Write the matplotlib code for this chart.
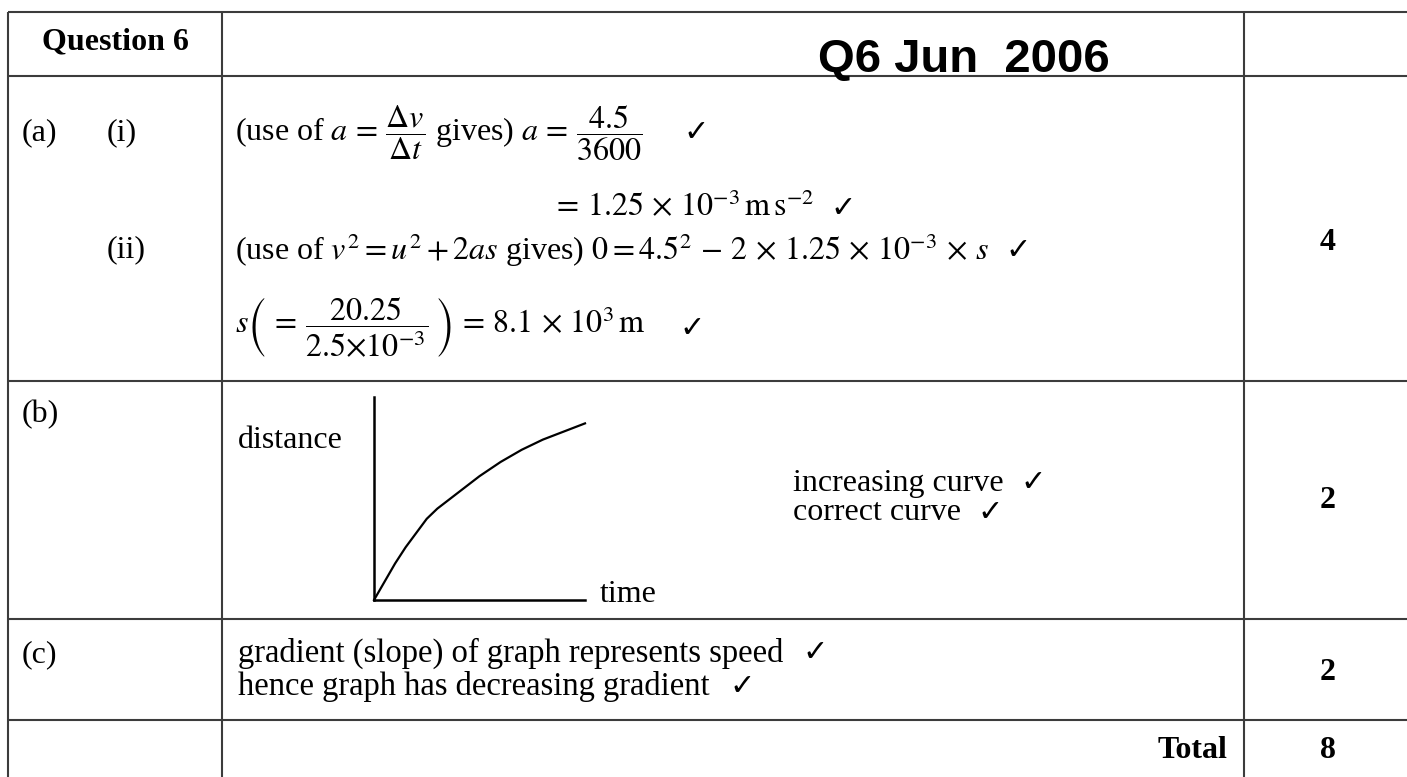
import matplotlib
matplotlib.use("Agg")
import matplotlib.pyplot as plt

plt.rcParams['mathtext.fontset'] = 'stix'
plt.rcParams['font.family'] = ['Liberation Serif', 'DejaVu Sans']

# ---- data ----
sketch_time = [0.0, 0.05, 0.10, 0.15, 0.20, 0.25, 0.30, 0.40, 0.50, 0.60, 0.70, 0.80, 0.90, 1.0]
sketch_distance = [0.0, 0.09, 0.18, 0.26, 0.33, 0.40, 0.45, 0.53, 0.61, 0.68, 0.74, 0.79, 0.83, 0.87]
marks = ["4", "2", "2"]
total_mark = "8"

W, H = 1407, 777
fig = plt.figure(figsize=(W / 100, H / 100), dpi=100)
ax = fig.add_axes([0, 0, 1, 1])
ax.set_xlim(0, W)
ax.set_ylim(H, 0)
ax.axis('off')

LC = '#3c3c3c'
LW = 1.5
# table grid
for y in [12, 76, 381, 619, 720]:
    ax.plot([8, W], [y, y], color=LC, lw=LW, solid_capstyle='butt')
for x in [8, 222, 1244]:
    ax.plot([x, x], [12, H], color=LC, lw=LW, solid_capstyle='butt')

FS = 23
SERIF = ['Liberation Serif', 'DejaVu Sans']


def txt(x, y, s, check=False, ha='left', va='center', bold=False, size=FS, gap=14):
    t = ax.text(x, y, s, ha=ha, va=va, fontsize=size, family=SERIF,
                fontweight='bold' if bold else 'normal', color='black')
    if check:
        ax.annotate('\u2713', xy=(1, 0.5), xycoords=t, xytext=(gap, 0),
                    textcoords='offset points', ha='left', va='center',
                    fontsize=FS * 0.95, family=['DejaVu Sans'], color='black')
    return t


# header
txt(115, 42, 'Question 6', ha='center', bold=True)
ax.text(818, 72, 'Q6 Jun  2006', ha='left', va='baseline', fontsize=34,
        fontweight='bold', family=['Liberation Sans', 'DejaVu Sans'], color='black')

# row labels
txt(22, 133, '(a)')
txt(107, 133, '(i)')
txt(107, 250, '(ii)')
txt(22, 415, '(b)')
txt(22, 655, '(c)')

# (a) working
txt(235, 133, r'(use of $a\, =\, \dfrac{\Delta v}{\Delta t}$ gives) $a\, =\, \dfrac{4.5}{3600}$',
    check=True, gap=30)
txt(552, 208, r'$=\, 1.25\, \times\, 10^{-3}\,\mathrm{m\,s}^{-2}$', check=True, gap=12)
txt(235, 250, r'(use of $v^2 = u^2 + 2as$ gives) $0 = 4.5^2\, -\, 2\, \times\, 1.25\, \times\, 10^{-3}\, \times\, s$',
    check=True, gap=12)
txt(235, 328, r'$s\left(\,=\, \dfrac{20.25}{2.5{\times}10^{-3}}\,\right)\, =\, 8.1\, \times\, 10^3\,\mathrm{m}$',
    check=True, gap=24)

# (b) sketch
txt(238, 440, 'distance')
txt(600, 594, 'time')
txt(793, 483, 'increasing curve', check=True, gap=12)
txt(793, 513, 'correct curve', check=True, gap=12)

x0, y0, x1, y1 = 374, 397, 585, 600
ax2 = fig.add_axes([x0 / W, 1 - y1 / H, (x1 - x0) / W, (y1 - y0) / H])
ax2.plot(sketch_time, sketch_distance, color='black', lw=1.6, clip_on=False)
ax2.set_xlim(0, 1)
ax2.set_ylim(0, 1)
ax2.set_xticks([])
ax2.set_yticks([])
for s in ['top', 'right']:
    ax2.spines[s].set_visible(False)
for s in ['left', 'bottom']:
    ax2.spines[s].set_linewidth(1.8)
    ax2.spines[s].set_color('black')
ax2.patch.set_alpha(0)

# (c)
txt(238, 653, 'gradient (slope) of graph represents speed', check=True, gap=14, size=23.5)
txt(238, 686, 'hence graph has decreasing gradient', check=True, gap=14, size=23.5)

# marks
for y, m in zip([243, 500, 672], marks):
    txt(1328, y, m, ha='center', bold=True)
txt(1227, 750, 'Total', ha='right', bold=True)
txt(1328, 750, total_mark, ha='center', bold=True)

fig.savefig('out.png', dpi=100)
